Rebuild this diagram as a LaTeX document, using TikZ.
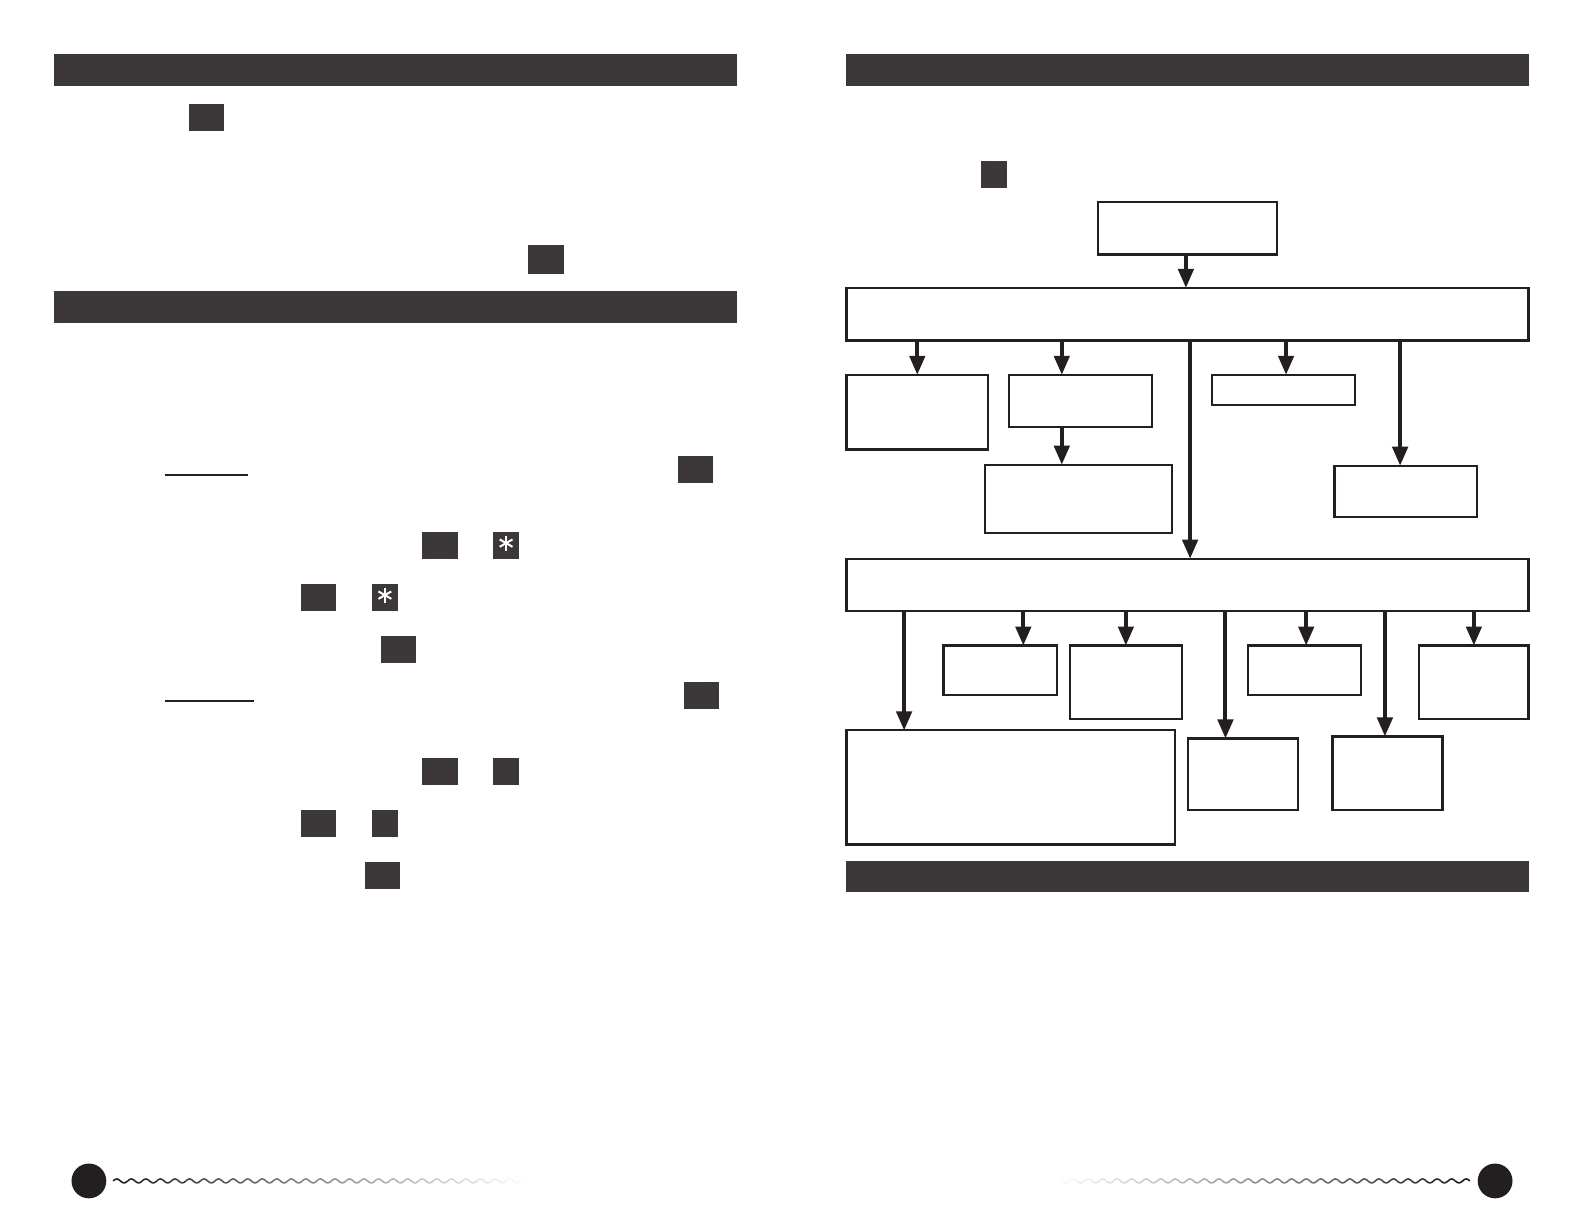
\documentclass[tikz,border=0pt]{standalone}
\usepackage{tikz}
\usetikzlibrary{arrows.meta,positioning,calc,fit}
\definecolor{ink}{HTML}{231F20}
\definecolor{slate}{HTML}{3C3839}

\begin{document}
\begin{tikzpicture}[
			x=0.5051pt,
			y=-0.5051pt,
			>={Triangle[length=9.5pt,width=7.6pt]},
			bar/.style={
				fill=slate,
				inner sep=0pt,
				outer sep=0pt
			},
			key/.style={
				fill=slate,
				inner sep=0pt,
				outer sep=0pt
			},
			star/.style={
				draw=white,
				line width=1pt
			},
			box/.style={
				draw=ink,
				line width=1.1pt,
				inner sep=0pt,
				outer sep=0pt
			},
			flow/.style={
				->,
				draw=ink,
				line width=2pt
			},
			rule/.style={
				draw=ink,
				line width=1.2pt
			},
			wave/.style={
				line width=0.8pt,
				line join=round
			},
			dot/.style={
				circle,
				fill=ink,
				inner sep=0pt,
				minimum size=17.4pt
			}
			]
			
			\useasboundingbox (0,0) rectangle (1568,1212);
			
			% left page
			\node[bar,fit={(53,53) (730,85)}] (headA) {};
			\node[bar,fit={(53,288) (730,320)}] (headB) {};
			
			\node[key,fit={(187,103) (222,130)}] (k1) {};
			\node[key,fit={(523,243) (558,271)}] (k2) {};
			\node[key,fit={(671,451) (706,478)}] (k3) {};
			\node[key,fit={(418,527) (453,553)}] (k4) {};
			\node[key,fit={(488,527) (514,553)}] (k5) {};
			\node[key,fit={(298,578) (333,605)}] (k6) {};
			\node[key,fit={(368,578) (394,605)}] (k7) {};
			\node[key,fit={(377,630) (412,656)}] (k8) {};
			\node[key,fit={(677,675) (712,702)}] (k9) {};
			\node[key,fit={(418,750) (453,777)}] (k10) {};
			\node[key,fit={(488,750) (514,777)}] (k11) {};
			\node[key,fit={(298,802) (333,829)}] (k12) {};
			\node[key,fit={(368,802) (394,829)}] (k13) {};
			\node[key,fit={(361,853) (396,880)}] (k14) {};
			
			\foreach \k in {k5,k7}
				\foreach \a in {90,30,150}
					\draw[star] ([yshift=1.2pt]\k.center) ++(\a:3.7pt) -- ++(\a+180:7.4pt);
			
			\draw[rule] (163,470) -- (245,470);
			\draw[rule] (163,694) -- (251,694);
			
			% right page
			\node[bar,fit={(837,53) (1514,85)}] (headC) {};
			\node[bar,fit={(837,852) (1514,883)}] (headD) {};
			\node[key,fit={(971,159) (997,186)}] (k15) {};
			
			\node[box,fit={(1087,200) (1264,252)}] (start) {};
			\node[box,fit={(838,285) (1513,337)}] (stage1) {};
			
			\node[box,fit={(838,371) (978,445)}] (optA) {};
			\node[box,fit={(999,371) (1140,423)}] (optB) {};
			\node[box,fit={(1200,371) (1341,401)}] (optC) {};
			\node[box,fit={(1321,461) (1462,512)}] (optD) {};
			\node[box,fit={(975,460) (1160,528)}] (optE) {};
			
			\node[box,fit={(838,553) (1513,605)}] (stage2) {};
			
			\node[box,fit={(838,723) (1163,836)}] (endF) {};
			\node[box,fit={(934,639) (1046,688)}] (endG) {};
			\node[box,fit={(1059,639) (1170,712)}] (endH) {};
			\node[box,fit={(1176,731) (1285,802)}] (endI) {};
			\node[box,fit={(1235,639) (1347,688)}] (endJ) {};
			\node[box,fit={(1319,729) (1428,802)}] (endK) {};
			\node[box,fit={(1405,639) (1513,712)}] (endL) {};
			
			\draw[flow] ([xshift=-0.8pt]start.south) -- ([xshift=-0.8pt]start.south |- stage1.north);
			
			\draw[flow] (optA.north |- stage1.south) -- (optA.north);
			\draw[flow] ([xshift=-9.3pt]optB.north |- stage1.south) -- ([xshift=-9.3pt]optB.north);
			\draw[flow] ([xshift=1.3pt]stage2.north |- stage1.south) -- ([xshift=1.3pt]stage2.north);
			\draw[flow] ([xshift=1.3pt]optC.north |- stage1.south) -- ([xshift=1.3pt]optC.north);
			\draw[flow] ([xshift=-2.8pt]optD.north |- stage1.south) -- ([xshift=-2.8pt]optD.north);
			\draw[flow] ([xshift=-8.3pt]optE.north |- optB.south) -- ([xshift=-8.3pt]optE.north);
			
			\draw[flow] ([xshift=-53.3pt]endF.north |- stage2.south) -- ([xshift=-53.3pt]endF.north);
			\draw[flow] ([xshift=11.6pt]endG.north |- stage2.south) -- ([xshift=11.6pt]endG.north);
			\draw[flow] (endH.north |- stage2.south) -- (endH.north);
			\draw[flow] ([xshift=-8.8pt]endI.north |- stage2.south) -- ([xshift=-8.8pt]endI.north);
			\draw[flow] ([xshift=1pt]endJ.north |- stage2.south) -- ([xshift=1pt]endJ.north);
			\draw[flow] ([xshift=-1.3pt]endK.north |- stage2.south) -- ([xshift=-1.3pt]endK.north);
			\draw[flow] (endL.north |- stage2.south) -- (endL.north);
			
			% page footers
			\node[dot] (dotL) at (88,1169) {};
			\node[dot] (dotR) at (1480,1169) {};
			
			\foreach \i in {0,...,27}{
				\pgfmathsetmacro\xa{112+14.4*\i}
				\pgfmathsetmacro\xb{\xa+14.4}
				\pgfmathsetmacro\tone{100-3.55*\i}
				\draw[wave,draw=ink!\tone] plot[domain=\xa:\xb,samples=9,smooth] (\x,{1169-2*sin(25*(\x-112))});
			}
			\foreach \i in {0,...,27}{
				\pgfmathsetmacro\xb{1455-14.4*\i}
				\pgfmathsetmacro\xa{\xb-14.4}
				\pgfmathsetmacro\tone{100-3.55*\i}
				\draw[wave,draw=ink!\tone] plot[domain=\xa:\xb,samples=9,smooth] (\x,{1169-2*sin(25*(1455-\x))});
			}
			
		\end{tikzpicture}
\end{document}
